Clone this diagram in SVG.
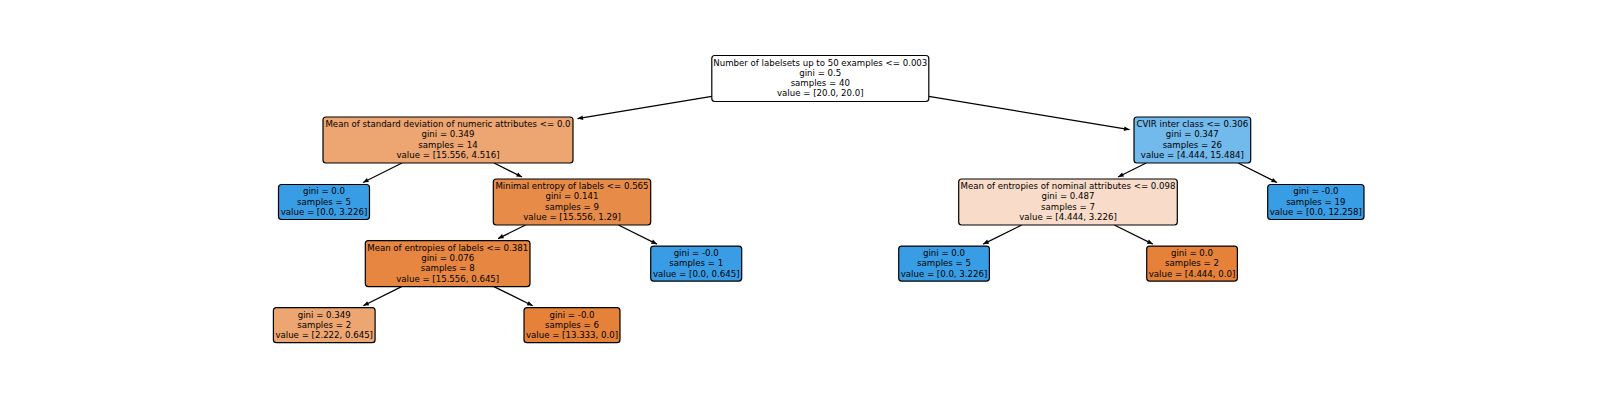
<svg xmlns="http://www.w3.org/2000/svg" width="1600" height="400" viewBox="0 0 1600 400">
<style>
.box{stroke:#000;stroke-width:1.2}
.t{font-family:"DejaVu Sans",sans-serif;font-size:8.6px;fill:#000;text-anchor:middle}
.e{stroke:#000;stroke-width:1.2;fill:none;marker-end:url(#ah)}
</style>
<defs>
<marker id="ah" viewBox="-6 -3 7 6" refX="0" refY="0" markerWidth="7" markerHeight="6" markerUnits="userSpaceOnUse" orient="auto">
<path d="M0,0 L-5.5,-2.3 L-5.5,2.3 Z" fill="#000"/>
</marker>
</defs>
<rect width="1600" height="400" fill="#fff"/>
<g id="edges">
<line class="e" x1="711.8" y1="96.4" x2="577.5" y2="118.6"/>
<line class="e" x1="928.8" y1="96.4" x2="1129.5" y2="129.6"/>
<line class="e" x1="402" y1="163" x2="363" y2="182.5"/>
<line class="e" x1="494" y1="163" x2="522" y2="177"/>
<line class="e" x1="525.6" y1="225" x2="498.1" y2="238.6"/>
<line class="e" x1="618.4" y1="225" x2="656.9" y2="244.1"/>
<line class="e" x1="401.6" y1="286.6" x2="363.3" y2="305.7"/>
<line class="e" x1="493.9" y1="286.6" x2="532.7" y2="305.7"/>
<line class="e" x1="1146.2" y1="163" x2="1118.1" y2="177"/>
<line class="e" x1="1238.1" y1="163" x2="1277" y2="182.5"/>
<line class="e" x1="1021.7" y1="225" x2="983.2" y2="244.1"/>
<line class="e" x1="1114.3" y1="225" x2="1152.8" y2="244.1"/>
</g>
<g id="n0">
<rect class="box" x="711.8" y="55.5" width="217" height="46" rx="3" fill="#ffffff"/>
<text class="t" x="820.3" y="65.5">Number of labelsets up to 50 examples &lt;= 0.003</text>
<text class="t" x="820.3" y="75.8">gini = 0.5</text>
<text class="t" x="820.3" y="86.1">samples = 40</text>
<text class="t" x="820.3" y="96.4">value = [20.0, 20.0]</text>
</g>
<g id="n1">
<rect class="box" x="323" y="117" width="250" height="46" rx="3" fill="#eda672"/>
<text class="t" x="448" y="127">Mean of standard deviation of numeric attributes &lt;= 0.0</text>
<text class="t" x="448" y="137.3">gini = 0.349</text>
<text class="t" x="448" y="147.6">samples = 14</text>
<text class="t" x="448" y="157.9">value = [15.556, 4.516]</text>
</g>
<g id="n2">
<rect class="box" x="278.5" y="184.5" width="91" height="35" rx="3" fill="#399de5"/>
<text class="t" x="324" y="194.4">gini = 0.0</text>
<text class="t" x="324" y="204.7">samples = 5</text>
<text class="t" x="324" y="215">value = [0.0, 3.226]</text>
</g>
<g id="n3">
<rect class="box" x="493.3" y="179" width="157.4" height="46" rx="3" fill="#e78b49"/>
<text class="t" x="572" y="189">Minimal entropy of labels &lt;= 0.565</text>
<text class="t" x="572" y="199.3">gini = 0.141</text>
<text class="t" x="572" y="209.6">samples = 9</text>
<text class="t" x="572" y="219.9">value = [15.556, 1.29]</text>
</g>
<g id="n4">
<rect class="box" x="365.3" y="240.6" width="164.7" height="46" rx="3" fill="#e68641"/>
<text class="t" x="447.7" y="250.6">Mean of entropies of labels &lt;= 0.381</text>
<text class="t" x="447.7" y="260.9">gini = 0.076</text>
<text class="t" x="447.7" y="271.2">samples = 8</text>
<text class="t" x="447.7" y="281.5">value = [15.556, 0.645]</text>
</g>
<g id="n5">
<rect class="box" x="273.4" y="307.7" width="101.7" height="35" rx="3" fill="#eda672"/>
<text class="t" x="324.2" y="317.6">gini = 0.349</text>
<text class="t" x="324.2" y="327.9">samples = 2</text>
<text class="t" x="324.2" y="338.2">value = [2.222, 0.645]</text>
</g>
<g id="n6">
<rect class="box" x="524" y="307.7" width="96" height="35" rx="3" fill="#e58139"/>
<text class="t" x="572" y="317.6">gini = -0.0</text>
<text class="t" x="572" y="327.9">samples = 6</text>
<text class="t" x="572" y="338.2">value = [13.333, 0.0]</text>
</g>
<g id="n7">
<rect class="box" x="650.7" y="246.1" width="91" height="35" rx="3" fill="#399de5"/>
<text class="t" x="696.2" y="256">gini = -0.0</text>
<text class="t" x="696.2" y="266.3">samples = 1</text>
<text class="t" x="696.2" y="276.6">value = [0.0, 0.645]</text>
</g>
<g id="n8">
<rect class="box" x="1134" y="117" width="116.7" height="46" rx="3" fill="#72b9ec"/>
<text class="t" x="1192.3" y="127">CVIR inter class &lt;= 0.306</text>
<text class="t" x="1192.3" y="137.3">gini = 0.347</text>
<text class="t" x="1192.3" y="147.6">samples = 26</text>
<text class="t" x="1192.3" y="157.9">value = [4.444, 15.484]</text>
</g>
<g id="n9">
<rect class="box" x="958.7" y="179" width="218.6" height="46" rx="3" fill="#f8dcc9"/>
<text class="t" x="1068" y="189">Mean of entropies of nominal attributes &lt;= 0.098</text>
<text class="t" x="1068" y="199.3">gini = 0.487</text>
<text class="t" x="1068" y="209.6">samples = 7</text>
<text class="t" x="1068" y="219.9">value = [4.444, 3.226]</text>
</g>
<g id="n10">
<rect class="box" x="898.7" y="246.1" width="90.7" height="35" rx="3" fill="#399de5"/>
<text class="t" x="944" y="256">gini = 0.0</text>
<text class="t" x="944" y="266.3">samples = 5</text>
<text class="t" x="944" y="276.6">value = [0.0, 3.226]</text>
</g>
<g id="n11">
<rect class="box" x="1146.7" y="246.1" width="90.7" height="35" rx="3" fill="#e58139"/>
<text class="t" x="1192" y="256">gini = 0.0</text>
<text class="t" x="1192" y="266.3">samples = 2</text>
<text class="t" x="1192" y="276.6">value = [4.444, 0.0]</text>
</g>
<g id="n12">
<rect class="box" x="1267.7" y="184.5" width="96.3" height="35" rx="3" fill="#399de5"/>
<text class="t" x="1315.8" y="194.4">gini = -0.0</text>
<text class="t" x="1315.8" y="204.7">samples = 19</text>
<text class="t" x="1315.8" y="215">value = [0.0, 12.258]</text>
</g>
</svg>
